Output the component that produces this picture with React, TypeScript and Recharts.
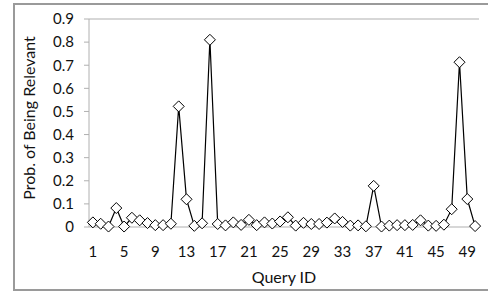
import { LineChart, Line, XAxis, YAxis, CartesianGrid } from 'recharts';

const QUERY_IDS = Array.from({ length: 50 }, (_, i) => i + 1);

const PROB_RELEVANT = [
  0.02, 0.014, 0.002, 0.082, 0.002, 0.04, 0.029, 0.017, 0.008, 0.008,
  0.014, 0.522, 0.12, 0.005, 0.016, 0.81, 0.013, 0.007, 0.02, 0.009,
  0.031, 0.008, 0.02, 0.015, 0.024, 0.042, 0.006, 0.018, 0.013, 0.013,
  0.019, 0.037, 0.022, 0.006, 0.007, 0.003, 0.178, 0.002, 0.006, 0.008,
  0.008, 0.009, 0.029, 0.006, 0.005, 0.01, 0.077, 0.713, 0.121, 0.004,
];

const X_TICKS = [1, 5, 9, 13, 17, 21, 25, 29, 33, 37, 41, 45, 49];
const X_BOUNDARIES = [0, ...QUERY_IDS].map((n) => n + 0.5);
const Y_TICKS = [0, 0.1, 0.2, 0.3, 0.4, 0.5, 0.6, 0.7, 0.8, 0.9];

const data = QUERY_IDS.map((id, i) => ({ id, prob: PROB_RELEVANT[i] }));

const FONT = 'Lato, "Liberation Sans", sans-serif';
const GRID = '#b0b0b0';

function Diamond(props: any) {
  const { cx, cy } = props;
  if (cx == null || cy == null) return null;
  const r = 5.5;
  return (
    <path
      d={`M${cx},${cy - r}L${cx + r},${cy}L${cx},${cy + r}L${cx - r},${cy}Z`}
      fill="#fff"
      stroke="#000"
      strokeWidth={1}
    />
  );
}

export default function App() {
  return (
    <div
      style={{
        position: 'absolute',
        left: 0,
        top: 0,
        width: 488,
        height: 293,
        background: '#fff',
        overflow: 'hidden',
        fontFamily: FONT,
      }}
    >
      <div
        style={{
          position: 'absolute',
          left: 13,
          top: 3,
          width: 490,
          height: 284,
          border: '2px solid #9a9a9a',
        }}
      />
      <LineChart
        width={488}
        height={293}
        data={data}
        margin={{ top: 19, right: 9, left: 0, bottom: 0 }}
        style={{ position: 'absolute', left: 0, top: 0 }}
      >
        <CartesianGrid vertical={false} stroke={GRID} strokeWidth={1.2} />
        <XAxis
          xAxisId="minor"
          type="number"
          dataKey="id"
          domain={[0.5, 50.5]}
          ticks={X_BOUNDARIES}
          height={0}
          tick={false}
          tickSize={5}
          tickLine={{ stroke: GRID }}
          axisLine={{ stroke: GRID }}
          allowDataOverflow
        />
        <XAxis
          xAxisId="main"
          type="number"
          dataKey="id"
          domain={[0.5, 50.5]}
          ticks={X_TICKS}
          interval={0}
          height={66}
          tickLine={false}
          axisLine={false}
          tickSize={6}
          tickMargin={13}
          tick={{ fill: '#111', fontSize: 15, fontFamily: FONT }}
          label={{
            value: 'Query ID',
            position: 'insideBottom',
            offset: 10,
            fill: '#111',
            fontSize: 16,
            fontFamily: FONT,
          }}
        />
        <YAxis
          yAxisId="left"
          width={89}
          domain={[0, 0.9]}
          ticks={Y_TICKS}
          interval={0}
          tickSize={5}
          tickMargin={10}
          tickLine={{ stroke: GRID }}
          axisLine={{ stroke: GRID }}
          tick={{ fill: '#111', fontSize: 15, fontFamily: FONT }}
          label={{
            content: () => (
              <text
                transform="translate(28,118) rotate(-90)"
                textAnchor="middle"
                dominantBaseline="central"
                fill="#111"
                fontSize={16}
                fontFamily={FONT}
              >
                Prob. of Being Relevant
              </text>
            ),
          }}
        />
        <YAxis
          yAxisId="right"
          orientation="right"
          width={0}
          domain={[0, 0.9]}
          tick={false}
          tickLine={false}
          axisLine={{ stroke: GRID }}
        />
        <Line
          xAxisId="main"
          yAxisId="left"
          dataKey="prob"
          stroke="#000"
          strokeWidth={1.2}
          dot={<Diamond />}
          activeDot={false}
          isAnimationActive={false}
        />
      </LineChart>
    </div>
  );
}
